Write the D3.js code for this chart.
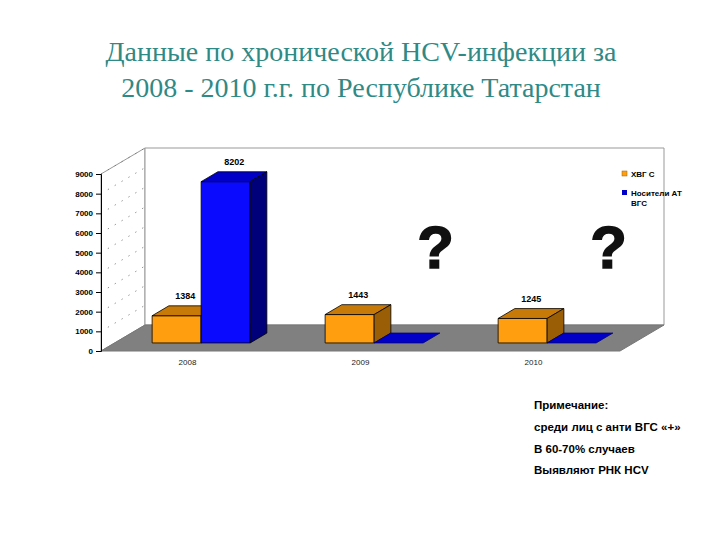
<!DOCTYPE html>
<html><head><meta charset="utf-8">
<script src="https://cdn.jsdelivr.net/npm/d3@7/dist/d3.min.js"></script>
<style>body{margin:0;background:#fff}svg{display:block}</style>
</head><body>
<svg id="c" width="720" height="540"></svg>
<script>
const years = ["2008", "2009", "2010"];
const seriesNames = ["ХВГ С", "Носители АТ ВГС"];
const hcvC = [1384, 1443, 1245];
const carriers = [8202, 0, 0];
const yTicks = [0, 1000, 2000, 3000, 4000, 5000, 6000, 7000, 8000, 9000];
const titleLines = ["Данные по хронической HCV-инфекции за", "2008 - 2010 г.г. по Республике Татарстан"];
const noteLines = ["Примечание:", "среди лиц с анти ВГС «+»", "В 60-70% случаев", "Выявляют РНК HCV"];

const svg = d3.select("#c");
const DX = 44, DY = -26, Z0 = 0.31, Z1 = 0.69;
const y = d3.scaleLinear().domain([0, 9000]).range([351, 174]);
const x = d3.scaleBand().domain(years).range([101, 620]);
const xs = d3.scaleBand().domain(seriesNames).range([0, x.bandwidth()]).paddingInner(0).paddingOuter(0.765);
const P = (px, v, z) => [px + z * DX, y(v) + z * DY];
const poly = pts => pts.map(p => p.join(",")).join(" ");

// title
svg.append("g").selectAll("text").data(titleLines).join("text")
  .attr("x", 361).attr("y", (d, i) => 61 + i * 36)
  .attr("text-anchor", "middle").attr("font-family", "Liberation Serif, Times New Roman, serif")
  .attr("font-size", 28).attr("fill", "#2f8a86").text(d => d);

// left wall
svg.append("polygon").attr("points", poly([P(101, 0, 0), P(101, 9000, 0), P(101, 9000, 1), P(101, 0, 1)]))
  .attr("fill", "#fff").attr("stroke", "#999").attr("stroke-width", 1);
// dotted gridlines on left wall
svg.append("g").selectAll("line").data(yTicks.slice(1)).join("line")
  .attr("x1", 101).attr("y1", d => y(d)).attr("x2", 101 + DX).attr("y2", d => y(d) + DY)
  .attr("stroke", "#666").attr("stroke-width", 1).attr("stroke-dasharray", "1,7");
// back wall
svg.append("polygon").attr("points", poly([P(101, 0, 1), P(101, 9000, 1), P(620, 9000, 1), P(620, 0, 1)]))
  .attr("fill", "#fff").attr("stroke", "#999").attr("stroke-width", 1);
// floor
svg.append("polygon").attr("points", poly([P(101, 0, 0), P(620, 0, 0), P(620, 0, 1), P(101, 0, 1)]))
  .attr("fill", "#808080").attr("stroke", "#777");

// y axis
const axis = svg.append("g").attr("transform", "translate(101,0)")
  .call(d3.axisLeft(y).tickValues(yTicks).tickSize(5).tickPadding(3).tickFormat(d3.format("d")));
axis.select(".domain").attr("stroke", "#000");
axis.selectAll(".tick line").attr("stroke", "#000");
axis.selectAll("text").attr("font-family", "Liberation Sans, Arial, sans-serif").attr("font-size", 8).attr("font-weight", "bold").attr("fill", "#000");

// category labels
svg.append("g").selectAll("text").data(years).join("text")
  .attr("x", d => x(d) + x.bandwidth() / 2).attr("y", 365)
  .attr("text-anchor", "middle").attr("font-family", "Liberation Sans, Arial, sans-serif")
  .attr("font-size", 8).attr("fill", "#222").text(d => d);

// bars
const colors = [
  {front: "#ff9e0f", top: "#c87a08", side: "#9a5e06"},
  {front: "#0a0aff", top: "#0000c8", side: "#00007a"}
];
const bars = [];
years.forEach((yr, i) => {
  [hcvC[i], carriers[i]].forEach((v, s) => {
    bars.push({yr, s, v, x0: x(yr) + xs(seriesNames[s]), w: xs.bandwidth()});
  });
});
const bg = svg.append("g");
bars.forEach(b => {
  const c = colors[b.s];
  const g = bg.append("g").attr("stroke", "#000").attr("stroke-width", 0.8).attr("stroke-linejoin", "round");
  const x0 = b.x0, x1 = b.x0 + b.w;
  if (b.v > 0) {
    g.append("polygon").attr("points", poly([P(x0, 0, Z0), P(x1, 0, Z0), P(x1, b.v, Z0), P(x0, b.v, Z0)])).attr("fill", c.front);
    g.append("polygon").attr("points", poly([P(x0, b.v, Z0), P(x1, b.v, Z0), P(x1, b.v, Z1), P(x0, b.v, Z1)])).attr("fill", c.top);
    g.append("polygon").attr("points", poly([P(x1, 0, Z0), P(x1, 0, Z1), P(x1, b.v, Z1), P(x1, b.v, Z0)])).attr("fill", c.side);
    const tp = P(x0 + b.w / 2, b.v, Z1);
    svg.append("text").attr("x", tp[0] - 8).attr("y", tp[1] - 7)
      .attr("text-anchor", "middle").attr("font-family", "Liberation Sans, Arial, sans-serif")
      .attr("font-size", 9).attr("font-weight", "bold").attr("fill", "#000").text(b.v);
  } else {
    g.append("polygon").attr("points", poly([P(x0, 0, Z0), P(x1, 0, Z0), P(x1, 0, Z1), P(x0, 0, Z1)]))
      .attr("fill", "#0000c8").attr("stroke", "#00007a");
  }
});

// question marks
svg.append("g").selectAll("text").data(["2009", "2010"]).join("text")
  .attr("x", d => x(d) + x.bandwidth() / 2 + 75).attr("y", 268)
  .attr("text-anchor", "middle").attr("font-family", "Liberation Sans, Arial, sans-serif")
  .attr("font-size", 60).attr("font-weight", "bold").attr("fill", "#111")
  .attr("stroke", "#111").attr("stroke-width", 1.5).text("?");

// legend
const leg = svg.append("g").attr("font-family", "Liberation Sans, Arial, sans-serif").attr("font-size", 8).attr("font-weight", "bold");
leg.append("rect").attr("x", 622).attr("y", 171).attr("width", 5).attr("height", 5).attr("fill", colors[0].front).attr("stroke", "#a06000").attr("stroke-width", 0.5);
leg.append("text").attr("x", 631).attr("y", 177).text(seriesNames[0]);
leg.append("rect").attr("x", 622).attr("y", 190).attr("width", 5).attr("height", 5).attr("fill", "#0000c8");
leg.append("text").attr("x", 631).attr("y", 196).text("Носители АТ");
leg.append("text").attr("x", 631).attr("y", 206).text("ВГС");

// notes
svg.append("g").selectAll("text").data(noteLines).join("text")
  .attr("x", 534).attr("y", (d, i) => 409 + i * 21.8)
  .attr("font-family", "Liberation Sans, Arial, sans-serif").attr("font-size", 11.5).attr("font-weight", "bold")
  .attr("fill", "#000").text(d => d);
</script>
</body></html>
